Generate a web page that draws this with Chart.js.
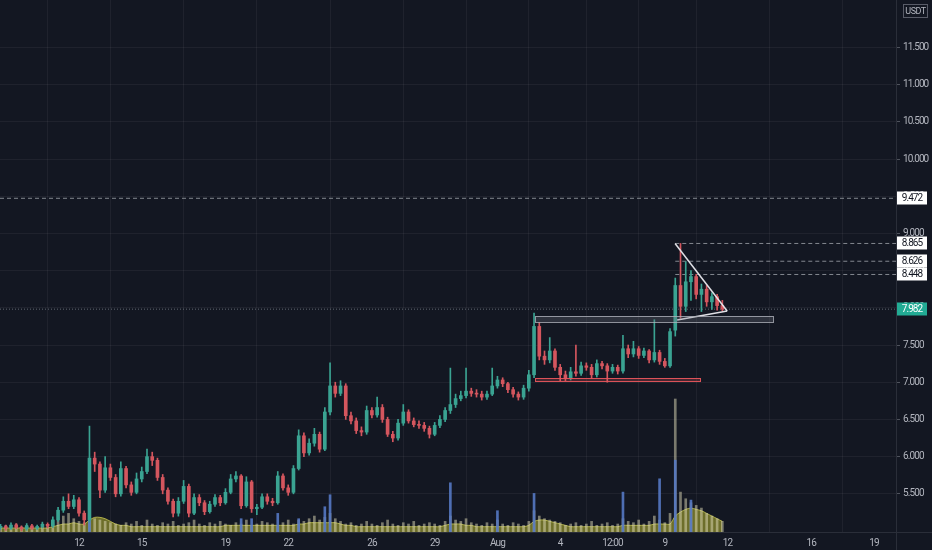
<!DOCTYPE html>
<html><head><meta charset="utf-8">
<script src="https://cdn.jsdelivr.net/npm/chart.js@4.4.0/dist/chart.umd.min.js"></script>
<style>html,body{margin:0;padding:0;background:#131722;}canvas{display:block;}</style>
</head><body>
<canvas id="c" width="932" height="550"></canvas>
<script>
// ---- DATA (6h candles, time in days since 8 Jul 00:00) ----
const opens=[5.05,5.06,5.04,5.08,5.05,5.03,5.07,5.04,5.06,5.09,
5.07,5.15,5.28,5.40,5.33,5.42,5.24,5.15,5.98,5.90,
5.55,5.85,5.72,5.50,5.84,5.62,5.52,5.70,5.80,6.00,
5.95,5.72,5.55,5.40,5.24,5.40,5.60,5.24,5.45,5.38,
5.26,5.36,5.45,5.38,5.52,5.70,5.74,5.34,5.66,5.30,
5.32,5.46,5.40,5.38,5.74,5.58,5.52,5.84,6.28,6.05,
6.18,6.30,6.10,6.60,6.95,6.85,6.95,6.55,6.48,6.35,
6.33,6.62,6.56,6.66,6.50,6.30,6.25,6.45,6.60,6.48,
6.43,6.42,6.38,6.30,6.42,6.50,6.62,6.70,6.78,6.82,
6.88,6.85,6.84,6.80,6.84,6.95,7.03,6.98,6.90,6.84,
6.80,6.92,7.10,7.75,7.35,7.30,7.42,7.20,7.10,7.05,
7.14,7.12,7.22,7.20,7.10,7.25,7.22,7.15,7.20,7.15,
7.45,7.38,7.45,7.36,7.42,7.30,7.40,7.28,7.22,7.70,
8.30,8.02,8.35,8.42,8.18,8.25,8.08,8.15,8.03];
const highs=[5.09,5.08,5.11,5.10,5.07,5.10,5.09,5.08,5.12,5.11,
5.19,5.32,5.46,5.50,5.48,5.45,5.27,6.41,6.06,5.93,
6.00,5.90,5.76,5.93,5.87,5.66,5.78,5.86,6.10,6.06,
5.98,5.76,5.58,5.43,5.45,5.68,5.63,5.50,5.49,5.41,
5.40,5.49,5.48,5.57,5.76,5.80,5.76,5.73,5.68,5.36,
5.50,5.50,5.44,5.80,5.77,5.62,5.88,6.36,6.32,6.24,
6.38,6.33,6.66,7.26,7.00,7.02,6.98,6.60,6.52,6.40,
6.68,6.66,6.80,6.70,6.53,6.34,6.50,6.70,6.63,6.52,
6.48,6.46,6.41,6.46,6.55,6.66,7.19,6.84,6.88,7.19,
6.92,6.90,6.88,6.88,7.19,7.08,7.06,7.00,6.93,6.87,
6.96,7.16,7.93,7.80,7.42,7.60,7.45,7.24,7.15,7.20,
7.50,7.27,7.26,7.24,7.30,7.28,7.25,7.24,7.23,7.63,
7.50,7.55,7.48,7.46,7.44,7.84,7.43,7.32,7.72,8.40,
8.865,8.62,8.50,8.45,8.32,8.30,8.20,8.18,8.10];
const lows=[5.02,5.01,5.02,5.03,5.00,5.01,5.02,5.02,5.04,5.04,
5.05,5.13,5.25,5.30,5.30,5.20,5.08,5.12,5.80,5.45,
5.52,5.68,5.46,5.47,5.58,5.48,5.50,5.66,5.77,5.88,
5.68,5.50,5.36,5.19,5.20,5.37,5.19,5.22,5.34,5.22,
5.24,5.33,5.34,5.36,5.50,5.66,5.30,5.32,5.25,5.22,
5.30,5.36,5.34,5.36,5.55,5.48,5.50,5.82,6.00,6.02,
6.14,6.06,6.08,6.56,6.80,6.82,6.50,6.44,6.31,6.28,
6.30,6.52,6.53,6.46,6.27,6.20,6.22,6.42,6.45,6.40,
6.38,6.34,6.25,6.28,6.39,6.47,6.58,6.66,6.75,6.79,
6.81,6.80,6.76,6.77,6.82,6.92,6.94,6.86,6.80,6.76,
6.77,6.88,7.06,7.30,7.24,7.26,7.16,7.02,7.02,7.03,
7.08,7.09,7.16,7.05,7.07,7.18,7.00,7.12,7.11,7.12,
7.33,7.34,7.32,7.33,7.26,7.27,7.24,7.20,7.20,7.62,
7.86,7.95,8.10,8.12,7.95,8.02,7.98,7.97,7.96];
const closes=[5.06,5.04,5.08,5.05,5.03,5.07,5.04,5.06,5.09,5.07,
5.15,5.28,5.40,5.33,5.42,5.24,5.15,5.98,5.90,5.55,
5.85,5.72,5.50,5.84,5.62,5.52,5.70,5.80,6.00,5.95,
5.72,5.55,5.40,5.24,5.40,5.60,5.24,5.45,5.38,5.26,
5.36,5.45,5.38,5.52,5.70,5.74,5.34,5.66,5.30,5.32,
5.46,5.40,5.38,5.74,5.58,5.52,5.84,6.28,6.05,6.18,
6.30,6.10,6.60,6.95,6.85,6.95,6.55,6.48,6.35,6.33,
6.62,6.56,6.66,6.50,6.30,6.25,6.45,6.60,6.48,6.43,
6.42,6.38,6.30,6.42,6.50,6.62,6.70,6.78,6.82,6.88,
6.85,6.84,6.80,6.84,6.95,7.03,6.98,6.90,6.84,6.80,
6.92,7.10,7.75,7.35,7.30,7.42,7.20,7.10,7.05,7.14,
7.12,7.22,7.20,7.10,7.25,7.22,7.15,7.20,7.15,7.45,
7.38,7.45,7.36,7.42,7.30,7.40,7.28,7.22,7.68,8.30,
8.02,8.35,8.42,8.18,8.25,8.08,8.15,8.03,7.982];
const volumes=[4,5,3,6,4,5,3,4,6,5,
7,9,12,14,10,8,7,20,10,9,8,7,
6,5,7,6,8,5,9,6,5,7,6,8,5,6,7,9,6,5,7,6,8,6,5,7,6,9,5,6,8,7,6,5,7,9,6,
9,8,10,12,9,11,14,10,8,
6,7,5,6,8,6,5,7,9,6,5,7,6,8,5,6,7,6,5,8,
12,9,8,10,7,
6,5,7,6,9,6,5,7,6,5,8,
16,12,10,9,8,7,
5,6,7,5,6,8,5,6,7,5,6,
10,8,7,9,6,8,12,9,7,14,
100,30,25,22,20,18,14,12,10,8];
const volumeAvg=[3,3,3,3,3,3,3,3,3,3,
4,5,6,6,7,6,6,9,11,11,10,8,
6,5,5,4,4,4,4,4,4,4,4,4,4,4,4,4,4,4,4,4,4,5,5,5,5,5,5,5,5,5,5,5,5,5,5,
6,6,7,7,7,7,7,7,6,
5,5,4,4,4,4,4,4,4,4,4,4,4,4,4,4,4,4,4,5,
6,6,6,5,5,
4,4,4,4,4,4,4,4,4,4,5,
8,9,9,8,7,6,
5,4,4,4,4,4,4,4,4,4,4,
5,5,5,5,5,5,6,6,6,6,
12,15,17,18,17,16,14,12,10,8];
const bigVolIndex=[17,46,48,53,57,62,63,86,95,102,119,126,129,132];
const bigVolValue=[32,10,10,14,10,19,28,37,16,29,30,40,54,24];
const firstCandleDay=0.25, candleStepDays=0.25;
const xMinDay=0.224, xMaxDay=43.05;
const yMinPrice=4.987, yMaxPrice=12.137;
const timeTickDays=[4,7,11,14,18,21,24,27,29.5,32,35,39,42];
const timeTickLabels=['12','15','19','22','26','29','Aug','4','12:00','9','12','16','19'];
const priceTicks=[5.5,6,6.5,7,7.5,8,8.5,9,9.5,10,10.5,11,11.5];
const levelPrices=[9.472,8.865,8.626,8.448];
const levelStartDays=[xMinDay,32.5,32.5,32.5];
const lastPrice=7.982;
const triangleUpper=[[32.49,8.865],[34.98,7.957]];
const triangleLower=[[32.59,7.836],[34.98,7.957]];
const grayZone=[25.8,37.17,7.81,7.89];
const redZone=[25.8,33.68,7.016,7.056];

// ---- STYLE ----
const UP='#3aa392', DOWN='#d4565e';
const gridColor='rgba(255,255,255,0.05)', axisColor='#2a2e39', textColor='#b2b5be';
const FONT='Roboto,sans-serif';
const SPACING='-0.9px';

const times=closes.map((_,i)=>firstCandleDay+i*candleStepDays);
const colors=closes.map((c,i)=>c>=opens[i]?UP:DOWN);

const datasets=[
 {type:'bar',label:'wick',data:times.map((t,i)=>({x:t,y:[lows[i],highs[i]]})),backgroundColor:colors,barThickness:1,grouped:false,yAxisID:'y',order:2},
 {type:'bar',label:'body',data:times.map((t,i)=>({x:t,y:[opens[i],closes[i]]})),backgroundColor:colors,barThickness:3,minBarLength:1,grouped:false,yAxisID:'y',order:1},
 {type:'line',label:'volAvg',data:times.map((t,i)=>({x:t,y:volumeAvg[i]})),yAxisID:'yv',fill:'origin',backgroundColor:'rgba(140,140,45,0.75)',borderColor:'rgba(185,185,80,0.9)',borderWidth:1,pointRadius:0,tension:0.3,order:7},
 {type:'bar',label:'vol',data:times.map((t,i)=>({x:t,y:volumes[i]})),backgroundColor:'rgba(225,222,185,0.5)',barThickness:2,grouped:false,yAxisID:'yv',order:6},
 {type:'bar',label:'bigVol',data:bigVolIndex.map((k,j)=>({x:times[k],y:bigVolValue[j]})),backgroundColor:'rgba(85,120,195,0.9)',barThickness:2,grouped:false,yAxisID:'yv',order:5},
];
levelPrices.forEach((p,k)=>datasets.push({type:'line',data:[{x:levelStartDays[k],y:p},{x:xMaxDay,y:p}],borderColor:'rgba(170,173,180,0.75)',borderWidth:1,borderDash:[4,3],pointRadius:0,yAxisID:'y',order:3}));
datasets.push({type:'line',data:[{x:xMinDay,y:lastPrice},{x:xMaxDay,y:lastPrice}],borderColor:'rgba(150,160,170,0.6)',borderWidth:1,borderDash:[1,2],pointRadius:0,yAxisID:'y',order:3});
[triangleUpper,triangleLower].forEach(seg=>datasets.push({type:'line',data:seg.map(p=>({x:p[0],y:p[1]})),borderColor:'rgba(235,235,240,0.95)',borderWidth:1.5,pointRadius:0,yAxisID:'y',order:0}));

const overlay={
 id:'overlay',
 beforeDraw(chart){ chart.ctx.letterSpacing=SPACING; },
 afterDatasetsDraw(chart){
  const {ctx,scales:{x,y},chartArea:a}=chart;
  ctx.save();
  ctx.beginPath();ctx.rect(a.left,a.top,a.right-a.left,a.bottom-a.top);ctx.clip();
  const box=(z,fill,stroke)=>{
   const x0=x.getPixelForValue(z[0]),x1=x.getPixelForValue(z[1]);
   const y0=y.getPixelForValue(z[3]),y1=y.getPixelForValue(z[2]);
   ctx.fillStyle=fill;ctx.fillRect(x0,y0,x1-x0,y1-y0);
   ctx.strokeStyle=stroke;ctx.lineWidth=1;ctx.strokeRect(Math.round(x0)+0.5,Math.round(y0)+0.5,Math.round(x1-x0),Math.round(y1-y0));
  };
  box(grayZone,'rgba(120,123,134,0.28)','rgba(175,178,186,0.8)');
  box(redZone,'rgba(224,82,90,0.25)','rgba(230,85,92,0.95)');
  ctx.restore();
 },
 afterDraw(chart){
  const {ctx,scales:{y},chartArea:a}=chart;
  ctx.save();
  ctx.letterSpacing=SPACING;
  ctx.strokeStyle=axisColor;ctx.lineWidth=1;
  ctx.beginPath();ctx.moveTo(a.right,a.bottom+0.5);ctx.lineTo(932,a.bottom+0.5);
  ctx.moveTo(a.right+0.5,a.bottom);ctx.lineTo(a.right+0.5,550);ctx.stroke();
  ctx.font='10px '+FONT;ctx.textAlign='center';ctx.textBaseline='middle';
  const tag=(p,fill,txt)=>{
   const cy=Math.round(y.getPixelForValue(p));
   ctx.fillStyle=fill;ctx.fillRect(a.right+1,cy-6.5,30,13);
   ctx.fillStyle=txt;ctx.fillText(p.toFixed(3),a.right+16,cy+0.5);
  };
  levelPrices.forEach(p=>tag(p,'#ffffff','#131722'));
  tag(lastPrice,'#22ab94','#ffffff');
  ctx.strokeStyle='rgba(120,123,134,0.7)';ctx.strokeRect(903.5,4.5,24,13);
  ctx.letterSpacing='-0.5px';
  ctx.fillStyle=textColor;ctx.font='9px '+FONT;ctx.fillText('USDT',915.5,11.5);
  ctx.restore();
 }
};

new Chart(document.getElementById('c'),{
 type:'bar',
 data:{datasets},
 options:{
  responsive:false,animation:false,devicePixelRatio:1,
  layout:{padding:0},
  plugins:{legend:{display:false},tooltip:{enabled:false}},
  scales:{
   x:{type:'linear',position:'bottom',min:xMinDay,max:xMaxDay,offset:false,
      grid:{color:gridColor,drawTicks:false},border:{color:axisColor},
      ticks:{color:textColor,font:{family:FONT,size:10},padding:5,maxRotation:0,autoSkip:false,callback:(v,i)=>timeTickLabels[i]},
      afterBuildTicks:s=>{s.ticks=timeTickDays.map(v=>({value:v}));},
      afterFit:s=>{s.height=18;s.paddingLeft=0;s.paddingRight=0;}},
   y:{type:'linear',position:'right',min:yMinPrice,max:yMaxPrice,
      grid:{color:gridColor,tickLength:4,tickColor:'rgba(120,123,134,0.6)'},border:{color:axisColor},
      ticks:{color:textColor,font:{family:FONT,size:10},padding:3,callback:v=>v.toFixed(3)},
      afterBuildTicks:s=>{s.ticks=priceTicks.map(v=>({value:v}));},
      afterFit:s=>{s.width=36;s.paddingTop=0;s.paddingBottom=0;}},
   yv:{type:'linear',display:false,min:0,max:400}
  }
 },
 plugins:[overlay]
});
</script>
</body></html>
